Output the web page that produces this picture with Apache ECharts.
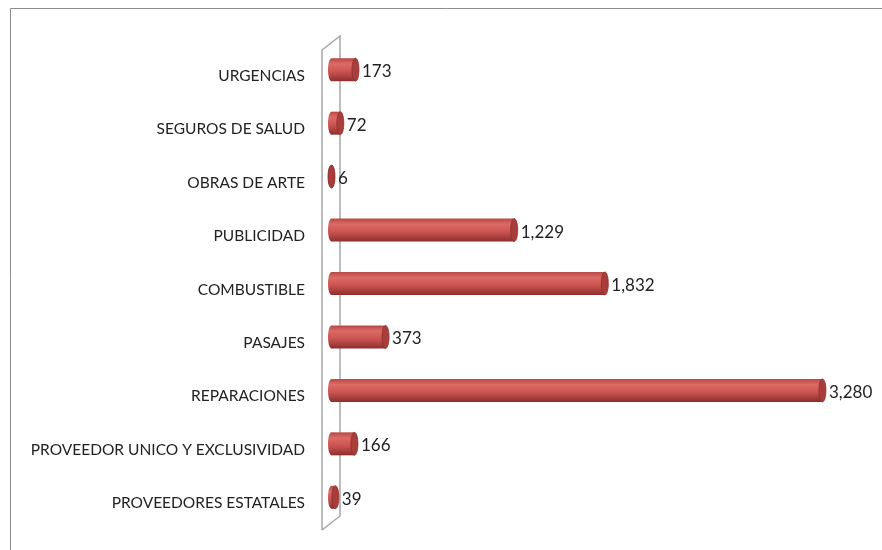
<!DOCTYPE html>
<html>
<head>
<meta charset="utf-8">
<script src="https://cdn.jsdelivr.net/npm/echarts@6/dist/echarts.min.js"></script>
<style>
  html, body { margin: 0; padding: 0; background: #fff; }
  #chart { width: 882px; height: 550px; }
</style>
</head>
<body>
<div id="chart"></div>
<script>
// categorias (de arriba a abajo)
var categorias = [
    'URGENCIAS',
    'SEGUROS DE SALUD',
    'OBRAS DE ARTE',
    'PUBLICIDAD',
    'COMBUSTIBLE',
    'PASAJES',
    'REPARACIONES',
    'PROVEEDOR UNICO Y EXCLUSIVIDAD',
    'PROVEEDORES ESTATALES'
];
var valores = [173, 72, 6, 1229, 1832, 373, 3280, 166, 39];

var myChart = echarts.init(document.getElementById('chart'));

var fmt = function (v) {
    return String(v).replace(/\B(?=(\d{3})+(?!\d))/g, ',');
};

// barra cilindrica (3D simulado)
var cilindro = function (params, api) {
    var idx = api.value(0);
    var val = api.value(1);
    var p0 = api.coord([0, idx]);
    var p1 = api.coord([val, idx]);
    var h = 23;
    var rx = 3.5;
    var cy = p0[1] - 6;
    var left = p0[0] - 5;
    var right = p1[0];
    var x0 = left + rx;
    var x1 = Math.max(right - rx, x0);
    var grad = new echarts.graphic.LinearGradient(0, 0, 0, 1, [
        { offset: 0, color: '#b84845' },
        { offset: 0.25, color: '#dd6a66' },
        { offset: 0.6, color: '#c9524f' },
        { offset: 1, color: '#8c2e2c' }
    ]);
    return {
        type: 'group',
        children: [
            {
                type: 'ellipse',
                shape: { cx: x0, cy: cy, rx: rx, ry: h / 2 },
                style: { fill: grad }
            },
            {
                type: 'rect',
                shape: { x: x0, y: cy - h / 2, width: x1 - x0, height: h },
                style: { fill: grad }
            },
            {
                type: 'ellipse',
                shape: { cx: x1, cy: cy, rx: rx, ry: h / 2 },
                style: { fill: '#a83e3b', stroke: '#8a2f2d', lineWidth: 0.8 }
            },
            {
                type: 'text',
                style: {
                    x: x1 + rx + 3,
                    y: cy + 2,
                    text: fmt(val),
                    fill: '#222',
                    font: '17px Lato',
                    verticalAlign: 'middle'
                }
            }
        ]
    };
};

var option = {
    animation: false,
    grid: { left: 333, right: 23, top: 49, bottom: 20 },
    xAxis: {
        type: 'value',
        min: 0,
        max: 3500,
        show: false
    },
    yAxis: {
        type: 'category',
        data: categorias,
        inverse: true,
        axisLine: { show: false },
        axisTick: { show: false },
        axisLabel: {
            margin: 28,
            color: '#222',
            fontFamily: 'Lato',
            fontSize: 15.5
        }
    },
    graphic: [
        {
            type: 'rect',
            shape: { x: 10.5, y: 8.5, width: 900, height: 700 },
            style: { fill: 'none', stroke: '#8c8c8c', lineWidth: 1 },
            z: 0
        },
        {
            type: 'polyline',
            shape: { points: [[322, 530], [322, 50], [340, 36], [340, 516], [322, 530]] },
            style: { fill: 'none', stroke: '#a6a6a6', lineWidth: 1.5 },
            z: 0
        }
    ],
    series: [
        {
            type: 'custom',
            renderItem: cilindro,
            encode: { x: 1, y: 0 },
            data: valores.map(function (v, i) { return [i, v]; }),
            z: 5
        }
    ]
};
myChart.setOption(option);
</script>
</body>
</html>
